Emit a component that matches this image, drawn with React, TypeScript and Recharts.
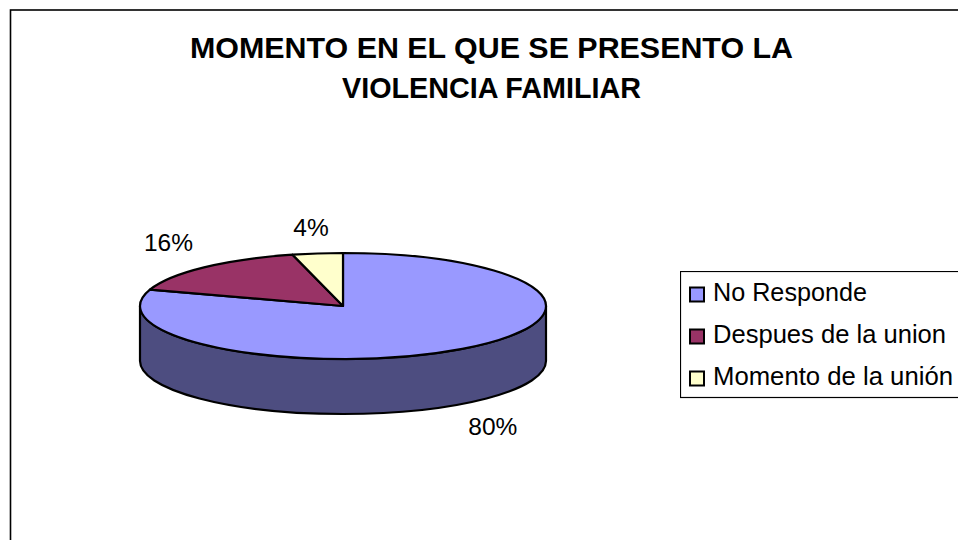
import { Cell, Legend, Pie, PieChart } from "recharts";

const CATEGORIES = ["No Responde", "Despues de la union", "Momento de la unión"];
const VALUES = [80, 16, 4];
const COLORS = ["#9999FF", "#993366", "#FFFFCC"];
const TITLE_LINES = ["MOMENTO EN EL QUE SE PRESENTO LA", "VIOLENCIA FAMILIAR"];

// the reference text is hinted, so its widths differ a bit from plain Arial
const TITLE_WIDTHS = [603, 299];
const LEGEND_WIDTHS = [154, 233, 240];
const LABEL_NUDGE = [0, -4, 2];

const WALL_COLOR = "#4D4D80";
const FONT = '"Liberation Sans", Arial, sans-serif';
const SQUASH = 53 / 203;
const DEPTH = 55;
const RAD = Math.PI / 180;

const chartData = CATEGORIES.map((name, i) => ({
  name,
  value: VALUES[i],
  fill: COLORS[i],
}));

function point(cx: number, cy: number, r: number, deg: number) {
  return [cx + r * Math.cos(deg * RAD), cy - r * SQUASH * Math.sin(deg * RAD)];
}

// flattened sector with a side wall, Recharts only hands out circular ones
function TiltedSector(props: any) {
  const { cx, cy, outerRadius: r, startAngle, endAngle, fill } = props;
  const ry = r * SQUASH;
  const lo = Math.min(startAngle, endAngle);
  const hi = Math.max(startAngle, endAngle);
  const [sx, sy] = point(cx, cy, r, hi);
  const [ex, ey] = point(cx, cy, r, lo);
  const large = hi - lo > 180 ? 1 : 0;
  const top = `M${cx},${cy} L${sx},${sy} A${r},${ry} 0 ${large} 1 ${ex},${ey} Z`;

  // the front of the rim is the part between -180 and 0 degrees
  const wallHi = Math.min(hi, 0);
  const wallLo = Math.max(lo, -180);
  let wall = null;
  if (wallHi > wallLo) {
    const [ax, ay] = point(cx, cy, r, wallLo);
    const [bx, by] = point(cx, cy, r, wallHi);
    wall = `M${ax},${ay} A${r},${ry} 0 0 0 ${bx},${by} L${bx},${by + DEPTH} A${r},${ry} 0 0 1 ${ax},${ay + DEPTH} Z`;
  }

  return (
    <g>
      {wall && <path d={wall} fill={WALL_COLOR} stroke="#000" strokeWidth={2.2} strokeLinejoin="round" />}
      <path d={top} fill={fill} stroke="#000" strokeWidth={2.2} strokeLinejoin="round" />
    </g>
  );
}

function SliceLabel(props: any) {
  const { cx, cy, outerRadius: r, midAngle, value, index } = props;
  const sin = Math.sin(midAngle * RAD);
  const x = cx + (r + 52) * Math.cos(midAngle * RAD);
  const y = cy - (r * SQUASH + 28) * sin + (sin < 0 ? DEPTH : 0) + LABEL_NUDGE[index];
  return (
    <text x={x} y={y} textAnchor="middle" dominantBaseline="central" fontFamily={FONT} fontSize={24.5} fill="#000">
      {`${value}%`}
    </text>
  );
}

function LegendBox() {
  return (
    <svg width={300} height={130} style={{ display: "block" }}>
      <rect x={0.5} y={0.5} width={320} height={126} fill="#fff" stroke="#000" strokeWidth={1.2} />
      {CATEGORIES.map((name, i) => (
        <g key={name}>
          <rect x={10} y={16.5 + i * 42} width={14} height={14} fill={COLORS[i]} stroke="#000" strokeWidth={2} />
          <text
            x={33}
            y={30 + i * 42}
            fontFamily={FONT}
            fontSize={25}
            fill="#000"
            textLength={LEGEND_WIDTHS[i]}
            lengthAdjust="spacingAndGlyphs"
          >
            {name}
          </text>
        </g>
      ))}
    </svg>
  );
}

export default function App() {
  return (
    <div style={{ position: "absolute", left: 0, top: 0, width: 958, height: 540, overflow: "hidden", background: "#fff" }}>
      <PieChart width={958} height={540} margin={{ top: 0, right: 0, bottom: 0, left: 0 }}>
        <rect x={10.5} y={10} width={1100} height={700} fill="#fff" stroke="#000" strokeWidth={1.6} />
        {TITLE_LINES.map((line, i) => (
          <text
            key={line}
            x={i === 0 ? 190 : 342}
            y={58 + i * 40}
            fontFamily={FONT}
            fontWeight="bold"
            fontSize={30}
            fill="#000"
            textLength={TITLE_WIDTHS[i]}
            lengthAdjust="spacingAndGlyphs"
          >
            {line}
          </text>
        ))}
        <Pie
          data={chartData}
          dataKey="value"
          nameKey="name"
          cx={343}
          cy={306}
          innerRadius={0}
          outerRadius={203}
          startAngle={90}
          endAngle={-270}
          shape={TiltedSector}
          label={SliceLabel}
          labelLine={false}
          isAnimationActive={false}
        >
          {chartData.map((d) => (
            <Cell key={d.name} fill={d.fill} />
          ))}
        </Pie>
        <Legend
          content={<LegendBox />}
          wrapperStyle={{ position: "absolute", left: 680, top: 271, width: 300, height: 130 }}
        />
      </PieChart>
    </div>
  );
}
